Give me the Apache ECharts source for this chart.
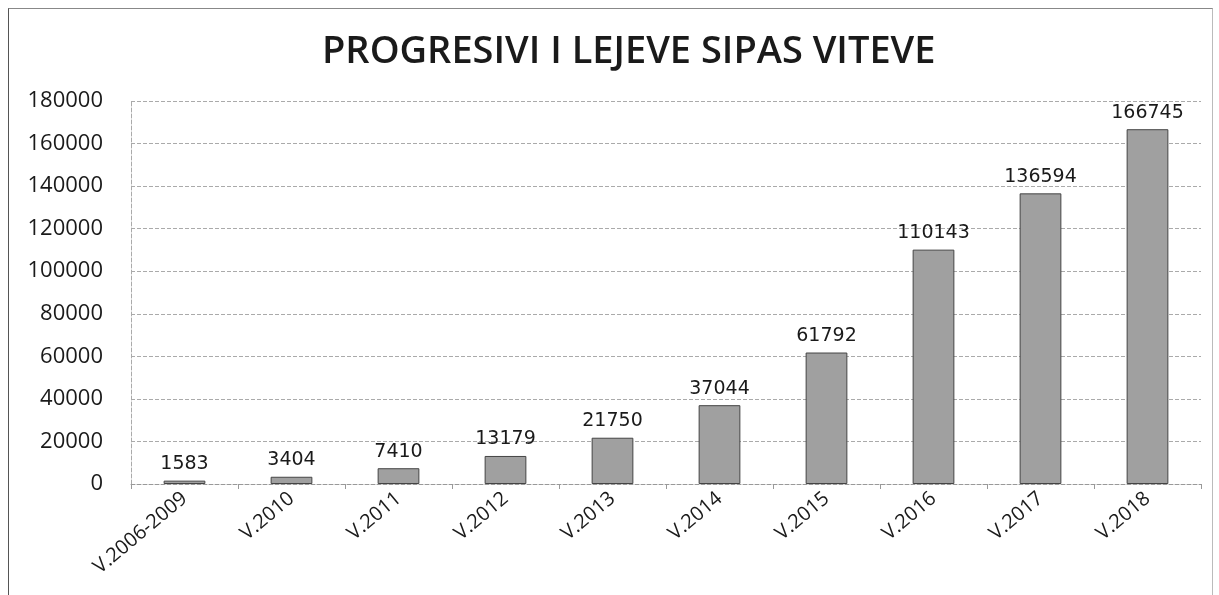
<!DOCTYPE html>
<html>
<head>
<meta charset="utf-8">
<script src="https://cdn.jsdelivr.net/npm/echarts@6/dist/echarts.min.js"></script>
<style>
  html, body { margin: 0; padding: 0; background: #fff; }
  #chart { position: absolute; left: 8px; top: 8px; width: 1205px; height: 600px;
           border-left: 1px solid #555; border-top: 1px solid #888; border-right: 1px solid #bbb; box-sizing: border-box; }
</style>
</head>
<body>
<div id="chart"></div>
<script>
const categories = ['V.2006-2009', 'V.2010', 'V.2011', 'V.2012', 'V.2013', 'V.2014', 'V.2015', 'V.2016', 'V.2017', 'V.2018'];
const values = [1583, 3404, 7410, 13179, 21750, 37044, 61792, 110143, 136594, 166745];

const chart = echarts.init(document.getElementById('chart'));

chart.setOption({
  animation: false,
  title: {
    text: 'PROGRESIVI I LEJEVE SIPAS VITEVE',
    left: 308,
    top: 19,
    textStyle: { fontFamily: 'Open Sans', fontWeight: 600, fontSize: 38, color: '#1a1a1a' }
  },
  grid: { left: 122, right: 11, top: 92, bottom: 124 },
  xAxis: {
    type: 'category',
    data: categories,
    axisLine: { lineStyle: { color: '#999', type: 'dashed' } },
    axisTick: { show: true, lineStyle: { color: '#999' } },
    axisLabel: { rotate: 40, fontFamily: 'Open Sans', fontSize: 20, color: '#1a1a1a', margin: 12 }
  },
  yAxis: {
    type: 'value',
    min: 0,
    max: 180000,
    interval: 20000,
    axisLine: { show: true, lineStyle: { color: '#aaa', type: 'dashed' } },
    axisTick: { show: false },
    axisLabel: { fontFamily: 'Open Sans', fontSize: 22, color: '#1a1a1a', margin: 28, formatter: v => String(v) },
    splitLine: { lineStyle: { color: '#aaa', type: 'dashed', width: 1 } }
  },
  series: [{
    type: 'bar',
    data: values,
    barWidth: '39%',
    itemStyle: { color: '#a0a0a0', borderColor: '#444', borderWidth: 1 },
    label: {
      show: true,
      position: 'top',
      distance: 7,
      fontFamily: 'DejaVu Sans',
      fontSize: 19,
      color: '#1a1a1a'
    }
  }]
});
</script>
</body>
</html>
